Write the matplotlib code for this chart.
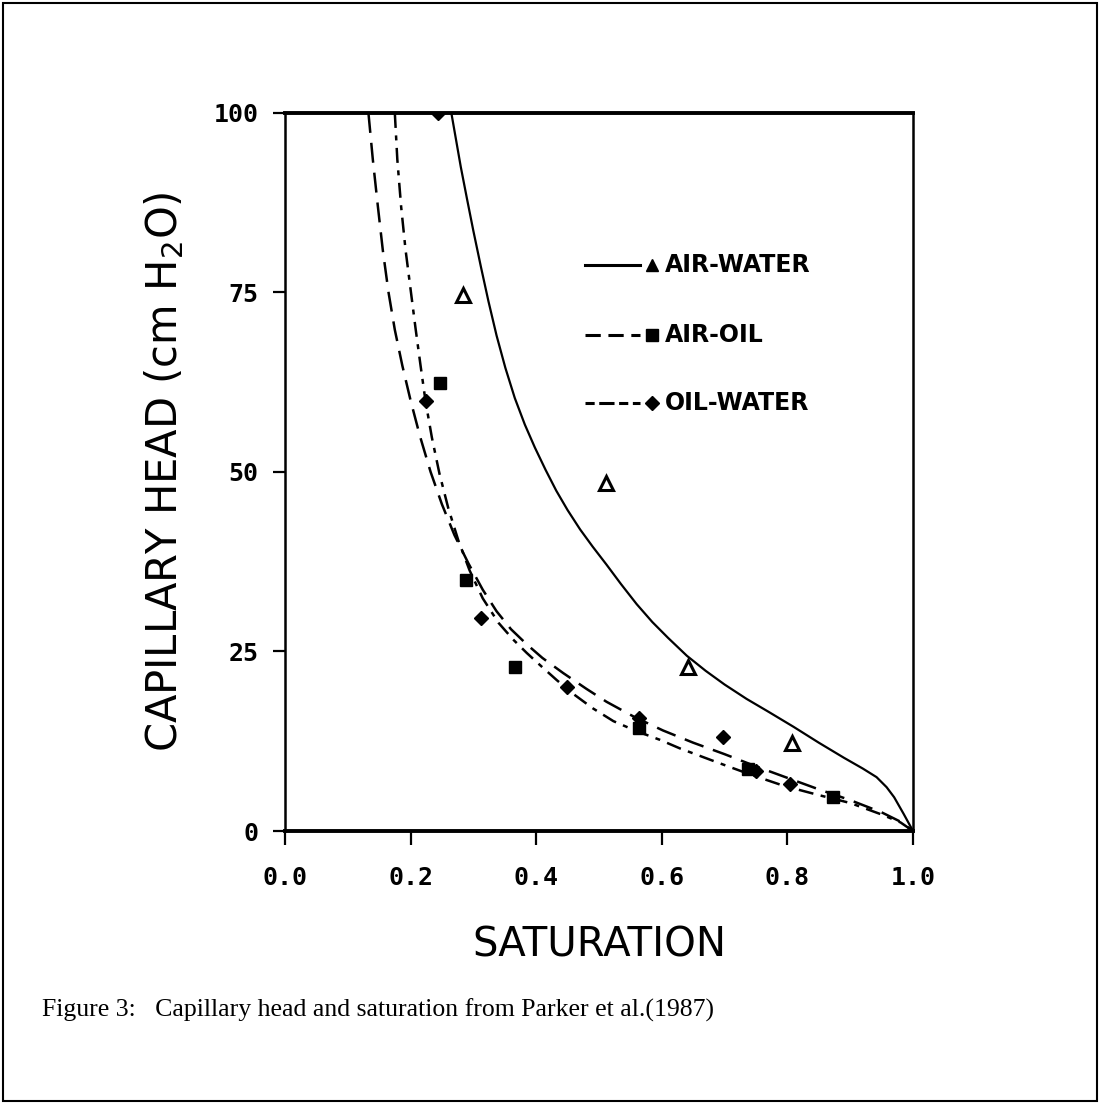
import numpy as np
import matplotlib
matplotlib.use('Agg')
import matplotlib.pyplot as plt
from matplotlib.patches import Rectangle

# curves (saturation, capillary head in cm H2O)
aw_s = [0.265, 0.272, 0.280, 0.290, 0.300, 0.312, 0.324, 0.337, 0.351, 0.366,
        0.382, 0.398, 0.415, 0.432, 0.450, 0.470, 0.490, 0.512, 0.535, 0.560,
        0.585, 0.610, 0.640, 0.670, 0.700, 0.735, 0.770, 0.810, 0.850, 0.890,
        0.920, 0.942, 0.958, 0.970, 0.985, 1.0]
aw_h = [100, 96.5, 92.5, 88.0, 83.6, 78.6, 73.8, 69.0, 64.5, 60.3,
        56.6, 53.4, 50.3, 47.4, 44.7, 42.0, 39.6, 37.1, 34.4, 31.6,
        29.1, 26.9, 24.4, 22.3, 20.4, 18.4, 16.6, 14.5, 12.3, 10.2,
        8.7, 7.5, 6.1, 4.7, 2.4, 0]

ao_s = [0.133, 0.140, 0.148, 0.156, 0.165, 0.175, 0.187, 0.200, 0.215, 0.232,
        0.250, 0.270, 0.292, 0.315, 0.337, 0.360, 0.385, 0.410, 0.443, 0.480,
        0.512, 0.556, 0.602, 0.650, 0.700, 0.750, 0.800, 0.850, 0.900, 0.950,
        0.980, 1.0]
ao_h = [100, 93.5, 87.0, 80.8, 75.0, 69.8, 64.8, 60.0, 55.0, 50.0,
        45.5, 41.2, 37.3, 33.6, 30.6, 28.1, 26.0, 24.1, 22.0, 19.8,
        18.0, 15.9, 14.0, 12.3, 10.7, 9.0, 7.4, 5.8, 4.3, 2.6,
        1.3, 0]

ow_s = [0.175, 0.179, 0.185, 0.192, 0.200, 0.208, 0.216, 0.224, 0.234, 0.246,
        0.260, 0.276, 0.294, 0.315, 0.340, 0.363, 0.385, 0.410, 0.433, 0.459,
        0.490, 0.523, 0.560, 0.597, 0.629, 0.687, 0.740, 0.794, 0.850, 0.900,
        0.950, 0.980, 1.0]
ow_h = [100, 93.5, 87.0, 81.0, 75.5, 70.0, 64.8, 59.8, 54.8, 49.8,
        45.0, 40.5, 36.3, 32.4, 29.0, 26.7, 24.8, 22.8, 21.0, 19.1,
        17.1, 15.3, 13.9, 12.7, 11.5, 9.6, 7.9, 6.3, 5.0, 3.9,
        2.3, 1.2, 0]

# measured points
aw_pts_s = [0.284, 0.512, 0.642, 0.808]
aw_pts_h = [74.6, 48.5, 22.9, 12.3]
ao_pts_s = [0.247, 0.288, 0.366, 0.563, 0.738, 0.873]
ao_pts_h = [62.4, 34.9, 22.8, 14.3, 8.7, 4.8]
ow_pts_s = [0.244, 0.224, 0.312, 0.449, 0.563, 0.698, 0.750, 0.804]
ow_pts_h = [100, 59.9, 29.6, 20.1, 15.7, 13.1, 8.3, 6.6]

legend_names = ['AIR-WATER', 'AIR-OIL', 'OIL-WATER']
xticks = [0.0, 0.2, 0.4, 0.6, 0.8, 1.0]
yticks = [0, 25, 50, 75, 100]

fig = plt.figure(figsize=(11, 11.03), dpi=100)
ax = fig.add_axes([0.259, 0.2466, 0.571, 0.651])

ax.plot(aw_s, aw_h, color='k', lw=1.6)
ax.plot(ao_s, ao_h, color='k', lw=1.8, dashes=(8, 4))
ax.plot(ow_s, ow_h, color='k', lw=1.8, dashes=(6, 3, 2, 3))

ax.plot(aw_pts_s, aw_pts_h, ls='none', marker='^', ms=10, mfc='white',
        mec='k', mew=2.2)
ax.plot(ao_pts_s, ao_pts_h, ls='none', marker='s', ms=8, color='k')
ax.plot(ow_pts_s, ow_pts_h, ls='none', marker='D', ms=7, color='k')

# hand-made legend, like the plotter drew it
leg_y = [0.788, 0.691, 0.596]
styles = [dict(lw=2.2), dict(lw=2.2, dashes=(5, 2.5)), dict(lw=2.2, dashes=(3, 1.5, 5, 1.5))]
marks = ['^', 's', 'D']
for yy, st, mk, name in zip(leg_y, styles, marks, legend_names):
    ax.plot([0.478, 0.565], [yy, yy], color='k', transform=ax.transAxes, **st)
    ax.plot([0.585], [yy], marker=mk, ms=8 if mk != 'D' else 7, color='k',
            transform=ax.transAxes)
    ax.text(0.605, yy, name, transform=ax.transAxes, va='center', ha='left',
            fontsize=17, fontweight='bold', family='DejaVu Sans')

ax.set_xlim(0, 1.0)
ax.set_ylim(0, 100)
ax.set_xticks(xticks)
ax.set_yticks(yticks)
ax.set_xticklabels(['%.1f' % v for v in xticks])
ax.set_yticklabels([str(v) for v in yticks])
ax.tick_params(axis='x', direction='out', length=10, width=1.6, pad=15)
ax.tick_params(axis='y', direction='out', length=9, width=1.6, pad=10)
for lab in ax.get_xticklabels() + ax.get_yticklabels():
    lab.set_family('DejaVu Sans Mono')
    lab.set_fontweight('bold')
    lab.set_fontsize(18)

for side in ['top', 'bottom']:
    ax.spines[side].set_linewidth(2.8)
for side in ['left', 'right']:
    ax.spines[side].set_linewidth(1.8)

ax.set_xlabel('SATURATION', fontsize=29, family='DejaVu Sans', labelpad=26)
ax.set_ylabel('CAPILLARY HEAD (cm H$_2$O)', fontsize=30, family='DejaVu Sans',
              labelpad=20)

fig.text(0.038, 0.084, 'Figure 3:   Capillary head and saturation from Parker et al.(1987)',
         fontsize=18.5, family='Liberation Serif', va='center', ha='left')

fig.patches.append(Rectangle((0.003, 0.002), 0.994, 0.995, transform=fig.transFigure,
                             fill=False, lw=1.5, ec='k'))

fig.savefig('out.png', dpi=100, facecolor='white')
